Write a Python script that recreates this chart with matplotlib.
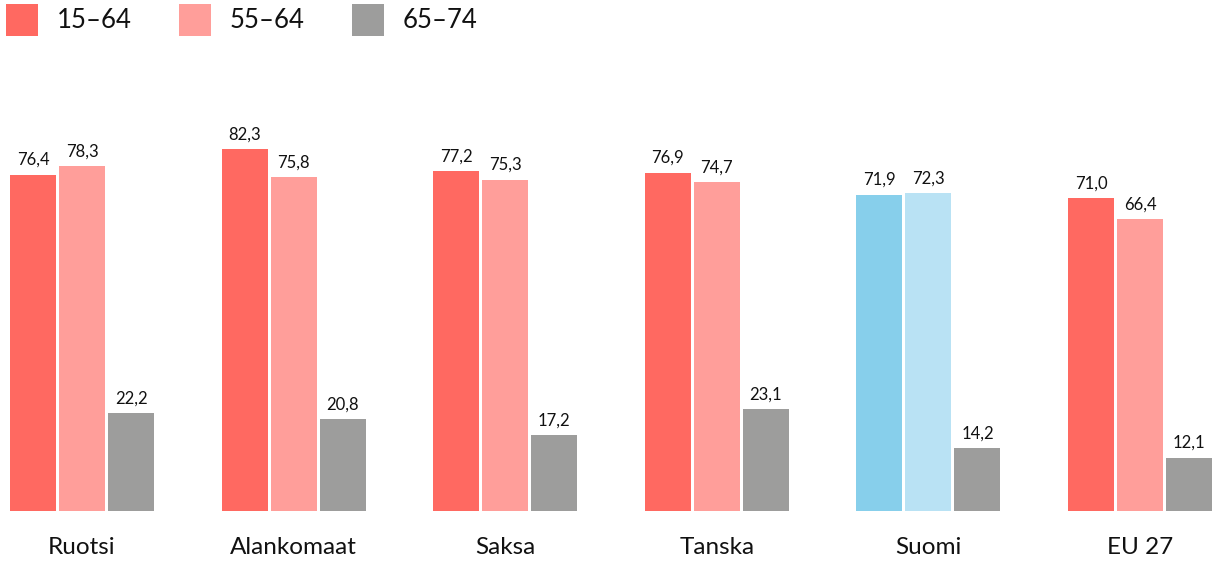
import numpy as np
import matplotlib
matplotlib.use("Agg")
import matplotlib.pyplot as plt
import matplotlib.patches as patches

countries = ["Ruotsi", "Alankomaat", "Saksa", "Tanska", "Suomi", "EU 27"]
age_groups = ["15–64", "55–64", "65–74"]
values_15_64 = [76.4, 82.3, 77.2, 76.9, 71.9, 71.0]
values_55_64 = [78.3, 75.8, 75.3, 74.7, 72.3, 66.4]
values_65_74 = [22.2, 20.8, 17.2, 23.1, 14.2, 12.1]
highlight = "Suomi"

colors = ["#ff6961", "#ff9e9a", "#9d9d9c"]
colors_hl = ["#87cfeb", "#b9e2f4", "#9d9d9c"]

plt.rcParams['font.family'] = ['Lato', 'DejaVu Sans']

fig = plt.figure(figsize=(12.12, 5.62), dpi=100)
ax = fig.add_axes([0, 0, 1, 1])

x = np.arange(len(countries))
bar_w = 0.217
step = 0.2316
series = [values_15_64, values_55_64, values_65_74]

for k, vals in enumerate(series):
    for i, v in enumerate(vals):
        c = colors_hl[k] if countries[i] == highlight else colors[k]
        xpos = x[i] + (k - 1) * step
        ax.bar(xpos, v, width=bar_w, color=c, linewidth=0)
        ax.text(xpos, v + 1.5, f"{v:.1f}".replace(".", ","), ha="center", va="bottom",
                fontsize=12, color="#111111")

for i, name in enumerate(countries):
    ax.text(x[i], -8.2, name, ha="center", va="center", fontsize=17.5, color="#111111")

ax.set_xlim(-0.3875, 5.34)
ax.set_ylim(-11.6, 116.1)
ax.axis("off")

# legend
leg_x = [6, 179, 352]
for k, lab in enumerate(age_groups):
    fig.add_artist(patches.Rectangle((leg_x[k] / 1212, 1 - 36 / 562), 32 / 1212, 32 / 562,
                                     transform=fig.transFigure, color=colors[k], linewidth=0))
    fig.text((leg_x[k] + 51) / 1212, 1 - 21 / 562, lab, ha="left", va="center",
             fontsize=18.5, color="#111111")

fig.savefig("out.png", dpi=100)
